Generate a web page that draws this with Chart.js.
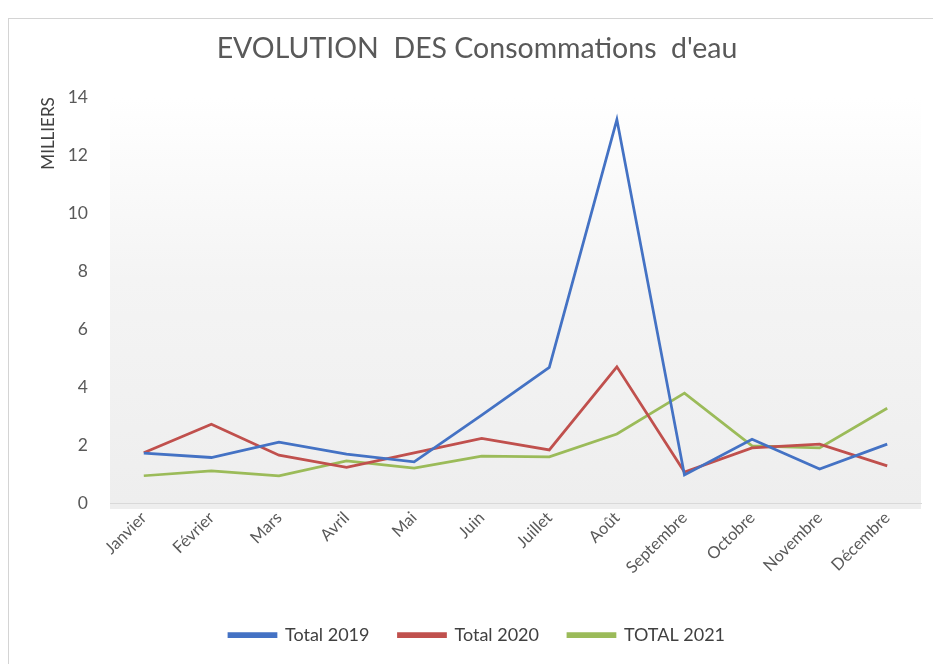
<!DOCTYPE html>
<html>
<head>
<meta charset="utf-8">
<script src="https://cdn.jsdelivr.net/npm/chart.js@4.4.0/dist/chart.umd.min.js"></script>
<style>
html,body{margin:0;padding:0;background:#fff;}
#wrap{position:absolute;left:0;top:0;width:933px;height:664px;}
</style>
</head>
<body>
<div id="wrap"><canvas id="c" width="933" height="664"></canvas></div>
<script>
const months = ['Janvier','Février','Mars','Avril','Mai','Juin','Juillet','Août','Septembre','Octobre','Novembre','Décembre'];
const total2019 = [1.72, 1.57, 2.10, 1.69, 1.42, 3.03, 4.68, 13.23, 0.97, 2.20, 1.17, 2.03];
const total2020 = [1.73, 2.72, 1.65, 1.23, 1.73, 2.23, 1.83, 4.70, 1.07, 1.90, 2.03, 1.28];
const total2021 = [0.94, 1.11, 0.94, 1.45, 1.20, 1.62, 1.59, 2.38, 3.79, 1.97, 1.90, 3.27];
const seriesNames = ['Total 2019', 'Total 2020', 'TOTAL 2021'];
const yTicks = [0, 2, 4, 6, 8, 10, 12, 14];

const FONT = 'Lato, "Open Sans", sans-serif';

const bgPlugin = {
  id: 'bg',
  beforeDraw(chart) {
    const {ctx, chartArea: a} = chart;
    ctx.save();
    ctx.fillStyle = '#ffffff';
    ctx.fillRect(0, 0, chart.width, chart.height);
    ctx.strokeStyle = '#d4d4d4';
    ctx.lineWidth = 1;
    ctx.strokeRect(8.5, 18.5, 1000, 1000);
    const g = ctx.createLinearGradient(0, a.top, 0, a.bottom);
    g.addColorStop(0, '#ffffff');
    g.addColorStop(0.45, '#f4f4f4');
    g.addColorStop(1, '#eeeeee');
    ctx.fillStyle = g;
    ctx.fillRect(a.left, a.top, a.right - a.left, a.bottom - a.top + 6);
    ctx.restore();
  }
};

new Chart(document.getElementById('c'), {
  type: 'line',
  data: {
    labels: months,
    datasets: [
      {label: seriesNames[0], data: total2019, borderColor: '#4472C4', backgroundColor: '#4472C4'},
      {label: seriesNames[1], data: total2020, borderColor: '#C0504D', backgroundColor: '#C0504D'},
      {label: seriesNames[2], data: total2021, borderColor: '#9BBB59', backgroundColor: '#9BBB59'}
    ].map(d => Object.assign(d, {borderWidth: 2.75, pointRadius: 0, tension: 0, fill: false}))
  },
  options: {
    responsive: false,
    animation: false,
    layout: {padding: {left: 33, right: 12, top: 26, bottom: 10}},
    plugins: {
      title: {
        display: true,
        text: 'EVOLUTION  DES Consommations  d\'eau',
        color: '#595959',
        font: {family: FONT, size: 28.5, weight: 'normal'},
        padding: {top: 6, bottom: 31}
      },
      legend: {
        position: 'bottom',
        labels: {
          boxWidth: 47,
          boxHeight: 3,
          padding: 29,
          color: '#404040',
          font: {family: FONT, size: 18}
        }
      },
      tooltip: {enabled: false}
    },
    scales: {
      x: {
        offset: true,
        grid: {display: false, drawTicks: false},
        border: {display: true, color: '#d9d9d9', width: 1},
        ticks: {
          color: '#595959',
          font: {family: FONT, size: 16.5},
          minRotation: 45,
          maxRotation: 45,
          padding: 5
        },
        afterFit(s) { s.height = 94; }
      },
      y: {
        min: 0,
        max: 14,
        afterBuildTicks(s) { s.ticks = yTicks.map(v => ({value: v})); },
        grid: {display: false, drawTicks: false},
        border: {display: false},
        ticks: {
          color: '#595959',
          font: {family: FONT, size: 17.5},
          padding: 22
        },
        title: {
          display: true,
          text: 'MILLIERS',
          align: 'end',
          color: '#404040',
          font: {family: FONT, size: 17},
          padding: {top: 5, bottom: 0}
        },
        afterFit(s) { s.width = 77; }
      }
    }
  },
  plugins: [bgPlugin]
});
</script>
</body>
</html>
